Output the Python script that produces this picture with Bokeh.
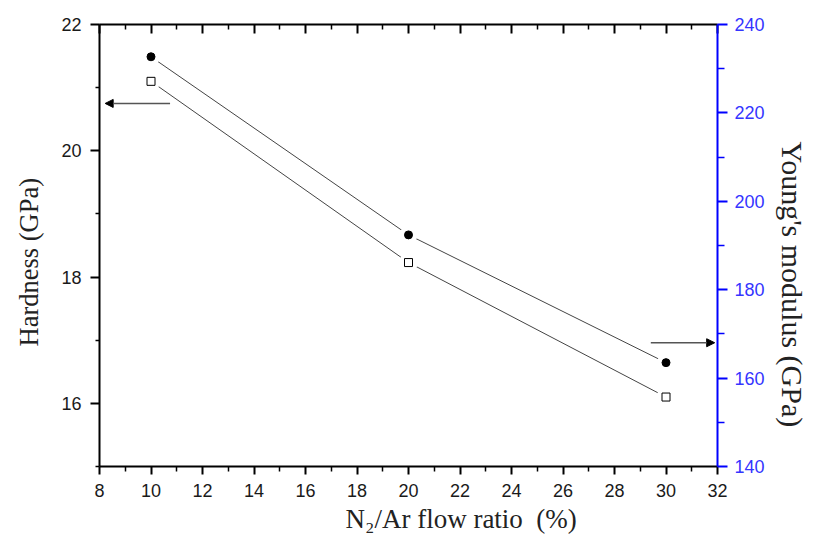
from bokeh.plotting import figure
from bokeh.models import (Range1d, LinearAxis, FixedTicker, Arrow, NormalHead, Title)
from bokeh.embed import file_html
from bokeh.resources import INLINE

# ---- data ----
flow_ratio = [10, 20, 30]
hardness = [21.1, 18.23, 16.1]          # GPa, open squares, left axis
modulus = [232.7, 192.4, 163.5]         # GPa, filled circles, right axis

x_ticks = [8, 10, 12, 14, 16, 18, 20, 22, 24, 26, 28, 30, 32]
x_minor = [9, 11, 13, 15, 17, 19, 21, 23, 25, 27, 29, 31]
h_ticks = [16, 18, 20, 22]
h_minor = [15, 17, 19, 21]
m_ticks = [140, 160, 180, 200, 220, 240]
m_minor = [150, 170, 190, 210, 230]

# arrows pointing to the axis of each series
arrow_h = dict(x0=10.74, x1=8.22, y=20.75)
arrow_m = dict(x0=29.41, x1=31.89, y=168.0)

x_label = "N\u2082/Ar flow ratio\u00a0\u00a0(%)"
h_label = "Hardness (GPa)"
m_label = "Young's modulus (GPa)"

TICK_FONT = "Liberation Sans"
TITLE_FONT = "Liberation Serif"

p = figure(frame_width=618, frame_height=442,
           min_border_left=99, min_border_right=96,
           min_border_top=24, min_border_bottom=69,
           x_range=Range1d(8, 32), y_range=Range1d(15, 22),
           output_backend="svg", toolbar_location=None)
p.extra_y_ranges = {"mod": Range1d(140, 240)}
p.grid.visible = False
p.outline_line_color = None
p.background_fill_color = "white"
p.border_fill_color = "white"

# bottom axis
xa = p.xaxis[0]
xa.ticker = FixedTicker(ticks=x_ticks, minor_ticks=x_minor)
xa.axis_line_width = 2
xa.major_tick_line_width = 2
xa.minor_tick_line_width = 1.5
xa.major_tick_out = 8
xa.major_tick_in = 0
xa.minor_tick_out = 5
xa.minor_tick_in = 0
xa.major_label_standoff = 9
xa.major_label_text_font = TICK_FONT
xa.major_label_text_font_size = "18px"
xa.major_label_text_color = "#1a1a1a"

# left axis
ya = p.yaxis[0]
ya.ticker = FixedTicker(ticks=h_ticks, minor_ticks=h_minor)
ya.axis_line_width = 2
ya.major_tick_line_width = 2
ya.minor_tick_line_width = 1.5
ya.major_tick_out = 9
ya.major_tick_in = 0
ya.minor_tick_out = 4
ya.minor_tick_in = 0
ya.major_label_standoff = 9
ya.major_label_text_font = TICK_FONT
ya.major_label_text_font_size = "18px"
ya.major_label_text_color = "#1a1a1a"

# top axis (ticks only)
ta = LinearAxis(ticker=FixedTicker(ticks=x_ticks, minor_ticks=x_minor),
                major_label_overrides={t: "" for t in x_ticks},
                major_label_text_font_size="0px", major_label_standoff=0,
                axis_line_width=2, major_tick_line_width=2, minor_tick_line_width=1.5,
                major_tick_in=9, major_tick_out=0, minor_tick_in=5, minor_tick_out=0)
p.add_layout(ta, "above")

# right axis (blue)
ra = LinearAxis(y_range_name="mod",
                ticker=FixedTicker(ticks=m_ticks, minor_ticks=m_minor),
                axis_line_color="#0000ff", axis_line_width=2,
                major_tick_line_color="#0000ff", minor_tick_line_color="#0000ff",
                major_tick_line_width=2, minor_tick_line_width=1.5,
                major_tick_out=10, major_tick_in=0, minor_tick_out=7, minor_tick_in=0,
                major_label_standoff=7,
                major_label_text_font=TICK_FONT, major_label_text_font_size="18px",
                major_label_text_color="#3535ff")
p.add_layout(ra, "right")

# series lines
p.line(flow_ratio, hardness, line_color="#444444", line_width=1)
p.line(flow_ratio, modulus, line_color="#444444", line_width=1, y_range_name="mod")
# white gaps around symbols
p.scatter(flow_ratio, hardness, marker="circle", size=19, fill_color="white", line_color=None)
p.scatter(flow_ratio, modulus, marker="circle", size=18, fill_color="white", line_color=None,
          y_range_name="mod")
# symbols
p.scatter(flow_ratio, hardness, marker="square", size=8, fill_color="white",
          line_color="black", line_width=1)
p.scatter(flow_ratio, modulus, marker="circle", size=8, fill_color="black",
          line_color="black", y_range_name="mod")

# arrows
p.add_layout(Arrow(end=NormalHead(size=8, fill_color="black", line_color="black"),
                   x_start=arrow_h["x0"], y_start=arrow_h["y"],
                   x_end=arrow_h["x1"], y_end=arrow_h["y"],
                   line_color="#555555", line_width=1.5))
p.add_layout(Arrow(end=NormalHead(size=8, fill_color="black", line_color="black"),
                   x_start=arrow_m["x0"], y_start=arrow_m["y"],
                   x_end=arrow_m["x1"], y_end=arrow_m["y"],
                   line_color="#555555", line_width=1.5, y_range_name="mod"))

# axis titles
p.add_layout(Title(text=x_label, align="left", offset=246, standoff=5,
                   text_font=TITLE_FONT, text_font_size="27px", text_font_style="normal",
                   text_color="#222222"), "below")
p.add_layout(Title(text=h_label, align="left", offset=120, standoff=25,
                   vertical_align="top",
                   text_font=TITLE_FONT, text_font_size="26.5px", text_font_style="normal",
                   text_color="#222222"), "left")
p.add_layout(Title(text=m_label, align="left", offset=117, standoff=13,
                   vertical_align="top",
                   text_font=TITLE_FONT, text_font_size="30px", text_font_style="normal",
                   text_color="#222222"), "right")

open("out.html", "w").write(file_html(p, INLINE))
